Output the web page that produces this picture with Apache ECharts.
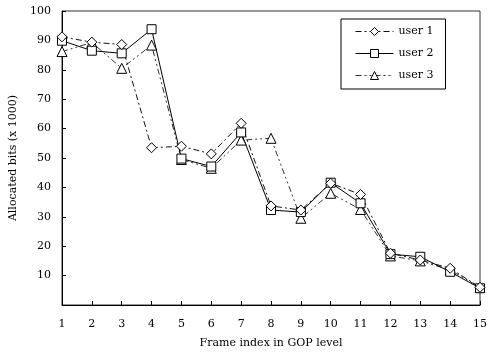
<!DOCTYPE html>
<html><head><meta charset="utf-8">
<script src="https://cdn.jsdelivr.net/npm/echarts@6/dist/echarts.min.js"></script>
<style>html,body{margin:0;padding:0;background:#fff}#c{width:490px;height:356px}</style>
</head><body><div id="c"></div>
<script>
const categories = ['1','2','3','4','5','6','7','8','9','10','11','12','13','14','15'];
const user1 = [91.2, 89.4, 88.6, 53.5, 54.0, 51.4, 61.8, 33.7, 32.3, 41.4, 37.6, 17.6, 15.3, 12.5, 6.0];
const user2 = [89.9, 86.5, 85.6, 93.8, 49.8, 47.1, 58.7, 32.3, 31.6, 41.6, 34.6, 17.3, 16.4, 11.3, 5.7];
const user3 = [86.2, 89.3, 80.5, 88.4, 49.5, 46.5, 56.1, 56.7, 29.5, 38.0, 32.5, 16.7, 15.0, 11.9, 6.0];
const seriesNames = ['user 1', 'user 2', 'user 3'];
const yMin = 0, yMax = 100, yStep = 10;

const font = 'DejaVu Serif';
const chart = echarts.init(document.getElementById('c'), null, {renderer: 'canvas'});
function mk(name, data, symbol, size, dash, color) {
  return {
    name: name, type: 'line', data: data, symbol: symbol, symbolSize: size,
    showAllSymbol: true, animation: false,
    itemStyle: {color: '#fff', borderColor: '#000', borderWidth: 1},
    lineStyle: {color: color, width: 1, type: dash},
    emphasis: {disabled: true}
  };
}
chart.setOption({
  animation: false,
  grid: {left: 61, right: 5, top: 11, bottom: 51, show: true, borderColor: '#333', borderWidth: 1},
  legend: {
    orient: 'vertical', left: 341, top: 19,
    data: seriesNames,
    borderColor: '#000', borderWidth: 1, padding: [7, 12, 8, 14],
    itemWidth: 38, itemHeight: 10, itemGap: 11,
    lineStyle: {width: 1},
    itemStyle: {borderWidth: 1},
    textStyle: {fontFamily: font, fontSize: 11, color: '#000'}
  },
  xAxis: {
    type: 'category', data: categories, boundaryGap: false,
    name: 'Frame index in GOP level', nameLocation: 'middle', nameGap: 33,
    nameTextStyle: {fontFamily: font, fontSize: 11, color: '#000'},
    axisLine: {lineStyle: {color: '#000', width: 1}},
    axisTick: {inside: true, length: 4, alignWithLabel: true, lineStyle: {color: '#000'}},
    axisLabel: {fontFamily: font, fontSize: 11, color: '#000', margin: 14, interval: 0},
    splitLine: {show: false}
  },
  yAxis: {
    type: 'value', min: yMin, max: yMax, interval: yStep,
    name: 'Allocated bits (x 1000)', nameLocation: 'middle', nameGap: 43, nameRotate: 90,
    nameTextStyle: {fontFamily: font, fontSize: 11, color: '#000'},
    axisLine: {show: true, lineStyle: {color: '#000', width: 1}},
    axisTick: {show: true, inside: true, length: 4, lineStyle: {color: '#000'}},
    axisLabel: {fontFamily: font, fontSize: 11, color: '#000', margin: 11,
      formatter: v => v === 0 ? '' : String(v)},
    splitLine: {show: false}
  },
  series: [
    mk(seriesNames[2], user3, 'triangle', 10, [6, 3, 2, 3, 2, 3], '#333'),
    mk(seriesNames[1], user2, 'rect', 9, 'solid', '#000'),
    mk(seriesNames[0], user1, 'diamond', 10, [6, 3, 2, 3], '#111')
  ]
});
</script></body></html>
